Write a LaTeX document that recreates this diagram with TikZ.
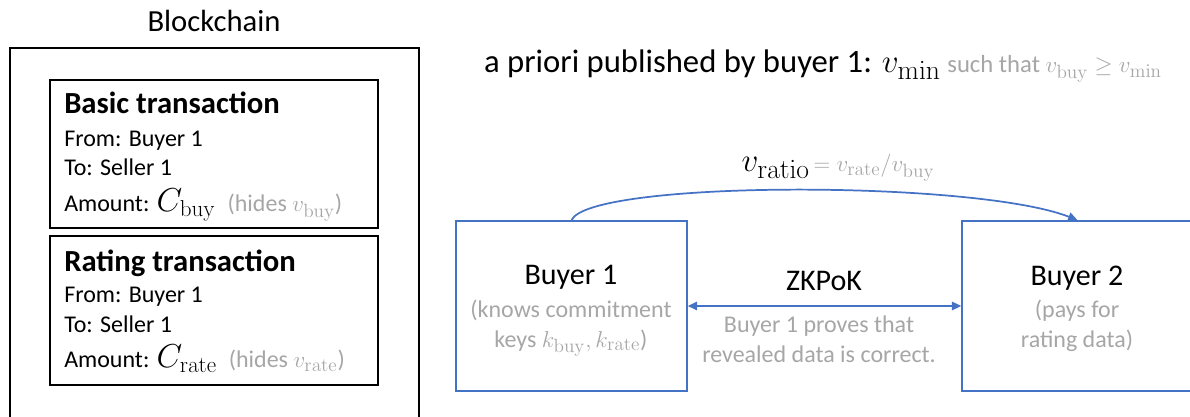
\documentclass[tikz,border=0pt]{standalone}
\usepackage[no-math]{fontspec}
\setmainfont{Carlito}
\usetikzlibrary{arrows.meta}
\renewcommand\defaultscriptratio{.78}
\definecolor{gtxt}{RGB}{166,166,166}
\definecolor{bl}{RGB}{68,114,196}
\begin{document}
\begin{tikzpicture}[x=0.75pt,y=-0.75pt,
  lt/.style={inner sep=0pt,anchor=base west,font=\fontsize{18}{20}\selectfont},
  ttl/.style={inner sep=0pt,anchor=base west,font=\fontsize{23}{25}\selectfont\bfseries},
  ct/.style={inner sep=0pt,anchor=base,font=\fontsize{18}{20}\selectfont,text=gtxt},
  big/.style={inner sep=0pt,anchor=base,font=\fontsize{23}{25}\selectfont},
  blk/.style={draw=black,line width=1.3pt},
  party/.style={draw=bl,line width=1.3pt,minimum width=173.25pt,minimum height=127.5pt,inner sep=0pt},
  arr/.style={draw=bl,line width=1.3pt,-{Triangle[length=7pt,width=6.5pt]}},
  darr/.style={draw=bl,line width=1.3pt,{Triangle[length=7pt,width=6.5pt]}-{Triangle[length=7pt,width=6.5pt]}}]
\useasboundingbox (0,0) rectangle (1190,417);
% Blockchain
\node[big] (bc) at (214,32) {Blockchain};
\draw[blk] (10,440) -- (10,48) -- (419,48) -- (419,440);
\draw[blk] (50,80) rectangle (378,228);
\draw[blk] (50,236) rectangle (378,385);
\node[ttl] (t1) at (64,114) {Basic transaction};
\node[lt] (f1) at (64,147) {From: Buyer 1};
\node[lt] (s1) at (64,176) {To: Seller 1};
\node[lt] (a1) at (64,212) {Amount: {\fontsize{24}{26}\selectfont$C_{\mathrm{buy}}$}\enspace{\color{gtxt}(hides $v_{\mathrm{buy}}$)}};
\node[ttl] (t2) at (64,272) {Rating transaction};
\node[lt] (f2) at (64,303) {From: Buyer 1};
\node[lt] (s2) at (64,333) {To: Seller 1};
\node[lt] (a2) at (64,368) {Amount: {\fontsize{24}{26}\selectfont$C_{\mathrm{rate}}$}\enspace{\color{gtxt}(hides $v_{\mathrm{rate}}$)}};
% top line
\node[inner sep=0pt,anchor=base] (pub) at (823,73) {{\fontsize{24.5}{26}\selectfont a priori published by buyer 1: $v_{\mathrm{min}}$}\enspace{\color{gtxt}\fontsize{18.5}{20}\selectfont such that $v_{\mathrm{buy}}\geq v_{\mathrm{min}}$}};
% parties
\node[party] (b1) at (571.5,306) {};
\node[party] (b2) at (1077.5,306) {};
\node[big,font=\fontsize{22.5}{24}\selectfont] (b1t) at (571,285) {Buyer 1};
\node[ct] (b1a) at (571,317) {(knows commitment};
\node[ct] (b1b) at (571,347) {keys $k_{\mathrm{buy}}, k_{\mathrm{rate}}$)};
\node[big,font=\fontsize{22.5}{24}\selectfont] (b2t) at (1077,286) {Buyer 2};
\node[ct] (b2a) at (1077,318) {(pays for};
\node[ct] (b2b) at (1077,347) {rating data)};
% ZKPoK
\draw[darr] (b1.east) -- (b2.west);
\node[big,font=\fontsize{22.5}{24}\selectfont] (zk) at (824,291) {ZKPoK};
\node[ct] (zka) at (819,333) {Buyer 1 proves that};
\node[ct] (zkb) at (819,363) {revealed data is correct.};
% ratio arrow
\draw[arr] (b1.north) .. controls (590,180) and (975,180) .. (b2.north);
\node[inner sep=0pt,anchor=base] (ratio) at (838,172) {{\fontsize{26}{28}\selectfont$v_{\mathrm{ratio}}$}\;{\color{gtxt}\fontsize{19}{21}\selectfont$= v_{\mathrm{rate}}/v_{\mathrm{buy}}$}};
\end{tikzpicture}
\end{document}
